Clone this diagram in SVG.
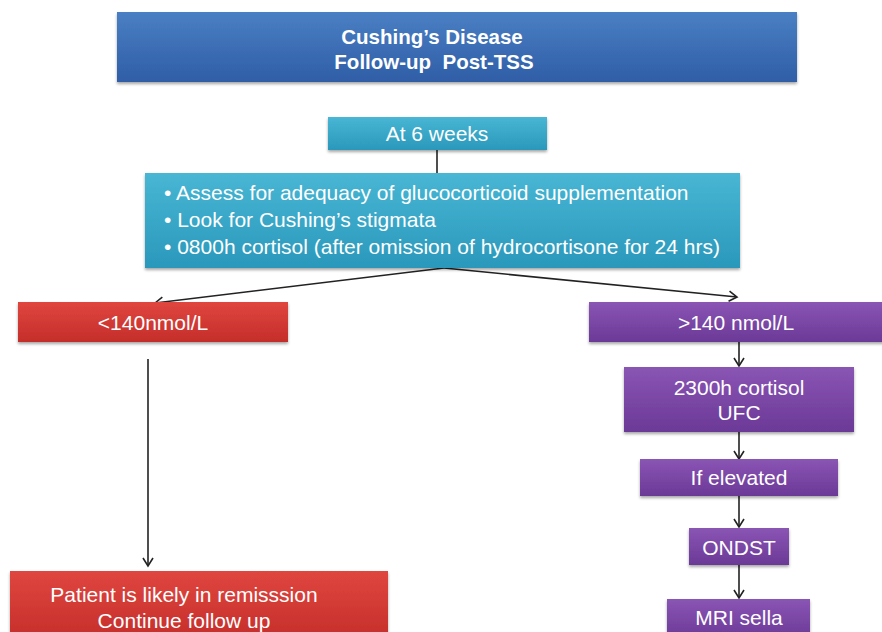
<svg xmlns="http://www.w3.org/2000/svg" width="882" height="632" viewBox="0 0 882 632">
<style>
text{font-family:"Liberation Sans",Arial,sans-serif;fill:#fff;font-size:21px}
.c{text-anchor:middle}
.b{font-weight:bold;font-size:20.5px}
.line{stroke:#222;stroke-width:1.6;fill:none}
</style>
<defs>
<linearGradient id="gBlue" x1="0" y1="0" x2="0" y2="1"><stop offset="0" stop-color="#4a7fc4"/><stop offset="1" stop-color="#2f5ea6"/></linearGradient>
<linearGradient id="gCyan" x1="0" y1="0" x2="0" y2="1"><stop offset="0" stop-color="#48b6d4"/><stop offset="1" stop-color="#2a98bb"/></linearGradient>
<linearGradient id="gRed" x1="0" y1="0" x2="0" y2="1"><stop offset="0" stop-color="#e0463f"/><stop offset="1" stop-color="#c42e2a"/></linearGradient>
<linearGradient id="gPurple" x1="0" y1="0" x2="0" y2="1"><stop offset="0" stop-color="#8a55b4"/><stop offset="1" stop-color="#6b3997"/></linearGradient>
<filter id="sh" x="-5%" y="-10%" width="110%" height="130%"><feDropShadow dx="0" dy="2" stdDeviation="1.5" flood-color="#000" flood-opacity="0.35"/></filter>
<marker id="arr" viewBox="0 0 12 12" refX="10" refY="6" markerWidth="12" markerHeight="12" markerUnits="userSpaceOnUse" orient="auto"><path d="M2,1 L10,6 L2,11" fill="none" stroke="#222" stroke-width="1.6"/></marker>
</defs>
<rect width="882" height="632" fill="#fff"/>
<g id="connectors">
<line class="line" x1="437" y1="150" x2="437" y2="173"/>
<line class="line" x1="444" y1="268" x2="155" y2="303" marker-end="url(#arr)"/>
<line class="line" x1="444" y1="268" x2="737" y2="297" marker-end="url(#arr)"/>
<line class="line" x1="148" y1="359" x2="148" y2="566" marker-end="url(#arr)"/>
<line class="line" x1="739" y1="342" x2="739" y2="366" marker-end="url(#arr)"/>
<line class="line" x1="739" y1="432" x2="739" y2="459" marker-end="url(#arr)"/>
<line class="line" x1="739" y1="496" x2="739" y2="527" marker-end="url(#arr)"/>
<line class="line" x1="739" y1="565" x2="739" y2="598" marker-end="url(#arr)"/>
</g>
<g id="title"><rect x="117" y="12" width="680" height="70" fill="url(#gBlue)" filter="url(#sh)"/>
<text class="c b" x="432" y="44">Cushing’s Disease</text>
<text class="c b" x="434" y="69" xml:space="preserve">Follow-up  Post-TSS</text></g>
<g id="six-weeks"><rect x="328" y="117" width="219" height="33" fill="url(#gCyan)" filter="url(#sh)"/>
<text class="c" x="437" y="141">At 6 weeks</text></g>
<g id="assess"><rect x="145" y="173" width="595" height="95" fill="url(#gCyan)" filter="url(#sh)"/>
<text x="164" y="200">• Assess for adequacy of glucocorticoid supplementation</text>
<text x="164" y="227">• Look for Cushing’s stigmata</text>
<text x="164" y="254">• 0800h cortisol (after omission of hydrocortisone for 24 hrs)</text></g>
<g id="low"><rect x="18" y="302" width="270" height="40" fill="url(#gRed)" filter="url(#sh)"/>
<text class="c" x="153" y="330">&lt;140nmol/L</text></g>
<g id="high"><rect x="589" y="302" width="300" height="40" fill="url(#gPurple)" filter="url(#sh)"/>
<text class="c" x="736" y="330">&gt;140 nmol/L</text></g>
<g id="cortisol2300"><rect x="624" y="367" width="230" height="65" fill="url(#gPurple)" filter="url(#sh)"/>
<text class="c" x="739" y="395">2300h cortisol</text>
<text class="c" x="739" y="420">UFC</text></g>
<g id="elevated"><rect x="640" y="459" width="198" height="37" fill="url(#gPurple)" filter="url(#sh)"/>
<text class="c" x="739" y="485">If elevated</text></g>
<g id="ondst"><rect x="689" y="528" width="100" height="37" fill="url(#gPurple)" filter="url(#sh)"/>
<text class="c" x="739" y="555">ONDST</text></g>
<g id="mri"><rect x="667" y="599" width="143" height="40" fill="url(#gPurple)" filter="url(#sh)"/>
<text class="c" x="739" y="625">MRI sella</text></g>
<g id="remission"><rect x="10" y="571" width="378" height="70" fill="url(#gRed)" filter="url(#sh)"/>
<text class="c" x="184" y="602">Patient is likely in remisssion</text>
<text class="c" x="184" y="628">Continue follow up</text></g>
</svg>
